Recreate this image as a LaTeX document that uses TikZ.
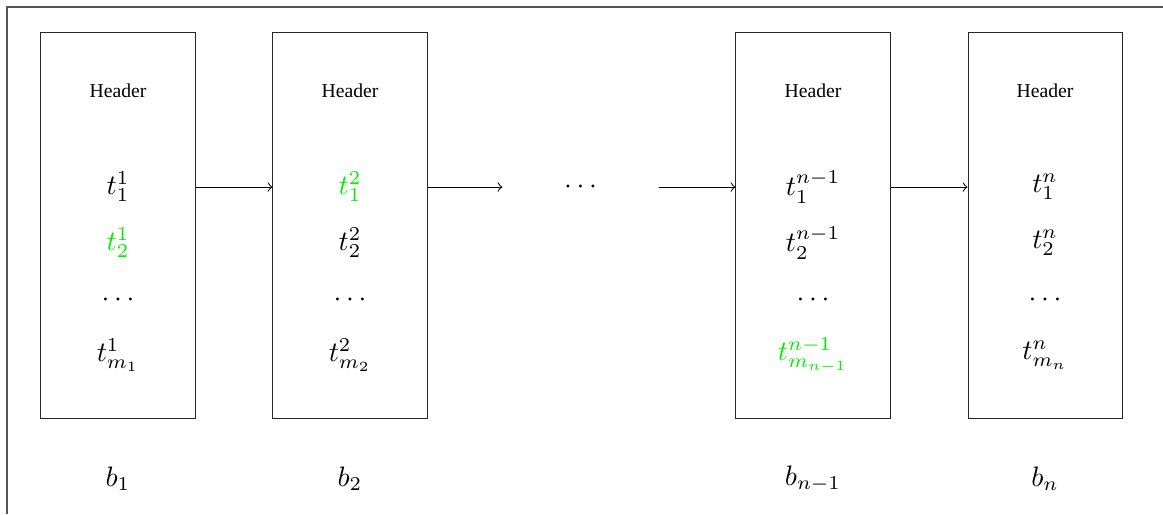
\documentclass[tikz,border=0pt]{standalone}
\usepackage[no-math]{fontspec}
\setmainfont{Liberation Serif}
\usetikzlibrary{positioning,calc}
\definecolor{hitc}{HTML}{00EE00}
\definecolor{framec}{HTML}{555555}
\tikzset{
  blk/.style={draw=black!85, line width=0.35pt, rectangle, inner sep=0pt, minimum width=1.925cm, minimum height=4.8125cm},
  hdr/.style={font=\scriptsize, inner sep=1pt},
  entry/.style={inner sep=1pt},
  hit/.style={entry, text=hitc},
  gapnode/.style={inner sep=0pt, minimum width=1.9375cm},
  link/.style={->, line width=0.35pt},
  frame/.style={draw=framec, line width=0.45pt},
}
\begin{document}
\begin{tikzpicture}[x=0.0125cm, y=-0.0125cm]
  \useasboundingbox (0,0) rectangle (1163,514);
  \coordinate (fa) at (7,514);
  \coordinate (fb) at (7,7);
  \coordinate (fc) at (1163,7);
  \draw[frame] (fa) -- (fb) -- (fc);
  % blocks
  \node[blk] (B1) at (118,225.5) {};
  \node[blk] (B2) at (350,225.5) {};
  \node[blk] (B3) at (813,225.5) {};
  \node[blk] (B4) at (1045,225.5) {};
  % headers
  \foreach \b in {1,...,4} \node[hdr] (H\b) at ($(B\b.north)+(0,58)$) {Header};
  % block 1
  \node[entry] (t11) at (118,187) {$t^1_1$};
  \node[hit]   (t12) at (118,243) {$t^1_2$};
  \node[entry] (t1d) at (118,300) {$\cdots$};
  \node[entry] (t1m) at (118,355) {$t^1_{m_1}$};
  % block 2
  \node[hit]   (t21) at (350,187) {$t^2_1$};
  \node[entry] (t22) at (350,243) {$t^2_2$};
  \node[entry] (t2d) at (350,300) {$\cdots$};
  \node[entry] (t2m) at (350,355) {$t^2_{m_2}$};
  % block n-1
  \node[entry] (t31) at (813,187) {$t^{n-1}_1$};
  \node[entry] (t32) at (813,243) {$t^{n-1}_2$};
  \node[entry] (t3d) at (813,300) {$\cdots$};
  \node[hit]   (t3m) at (813,355) {$t^{n-1}_{m_{n-1}}$};
  % block n
  \node[entry] (t41) at (1045,187) {$t^n_1$};
  \node[entry] (t42) at (1045,243) {$t^n_2$};
  \node[entry] (t4d) at (1045,300) {$\cdots$};
  \node[entry] (t4m) at (1045,355) {$t^n_{m_n}$};
  % gap between b2 and b(n-1)
  \node[gapnode] (gap) at (580.5,187) {$\cdots$};
  % labels below
  \node (l1) at (118,479) {$b_1$};
  \node (l2) at (350,479) {$b_2$};
  \node (l3) at (813,479) {$b_{n-1}$};
  \node (l4) at (1045,479) {$b_n$};
  % chain
  \draw[link] (B1.east |- t11) -- (B2.west |- t21);
  \draw[link] (B2.east |- t21) -- (gap.west);
  \draw[link] (gap.east) -- (B3.west |- t31);
  \draw[link] (B3.east |- t31) -- (B4.west |- t41);
\end{tikzpicture}
\end{document}
